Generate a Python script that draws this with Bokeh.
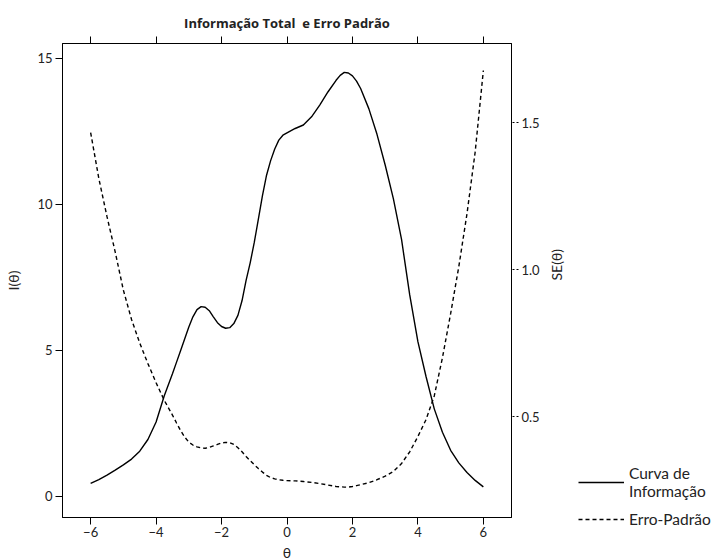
import math
from bokeh.plotting import figure
from bokeh.layouts import row
from bokeh.models import (Range1d, LinearAxis, FixedTicker, Legend, LegendItem,
                          CustomJSTickFormatter)
from bokeh.embed import file_html
from bokeh.resources import INLINE

theta = [-6.0, -5.75, -5.5, -5.25, -5.0, -4.75, -4.5, -4.25, -4.0, -3.75, -3.5, -3.375,
         -3.25, -3.125, -3.0, -2.875, -2.75, -2.625, -2.5, -2.375, -2.25, -2.125, -2.0,
         -1.875, -1.75, -1.625, -1.5, -1.375, -1.25, -1.125, -1.0, -0.875, -0.75, -0.625,
         -0.5, -0.375, -0.25, -0.125, 0.0, 0.25, 0.5, 0.75, 1.0, 1.25, 1.5, 1.625, 1.75,
         1.875, 2.0, 2.125, 2.25, 2.5, 2.75, 3.0, 3.25, 3.5, 3.75, 4.0, 4.25, 4.5, 4.75,
         5.0, 5.25, 5.5, 5.75, 6.0]
info = [0.45, 0.58, 0.73, 0.90, 1.08, 1.28, 1.55, 1.95, 2.55, 3.45, 4.2, 4.6,
        5.0, 5.4, 5.8, 6.15, 6.4, 6.5, 6.48, 6.36, 6.15, 5.95, 5.82,
        5.76, 5.78, 5.92, 6.2, 6.7, 7.4, 8.0, 8.7, 9.5, 10.3, 11.0,
        11.5, 11.9, 12.2, 12.37, 12.45, 12.6, 12.72, 13.0, 13.4, 13.85, 14.25, 14.42, 14.52,
        14.5, 14.4, 14.22, 13.97, 13.28, 12.4, 11.35, 10.2, 8.8, 6.9, 5.3, 4.1, 3.0, 2.2,
        1.58, 1.15, 0.82, 0.55, 0.33]
se = [1.466, 1.31, 1.18, 1.06, 0.93, 0.83, 0.75, 0.68, 0.615, 0.555, 0.505, 0.478,
      0.452, 0.43, 0.413, 0.403, 0.397, 0.393, 0.392, 0.395, 0.40, 0.405, 0.41,
      0.412, 0.411, 0.405, 0.394, 0.38, 0.364, 0.35, 0.336, 0.323, 0.311, 0.30,
      0.292, 0.288, 0.285, 0.283, 0.282, 0.281, 0.279, 0.276, 0.272, 0.267, 0.262, 0.261, 0.26,
      0.26, 0.262, 0.265, 0.268, 0.275, 0.285, 0.297, 0.313, 0.34, 0.38, 0.432, 0.49, 0.57, 0.70,
      0.85, 1.01, 1.19, 1.40, 1.677]

x_ticks = [-6, -4, -2, 0, 2, 4, 6]
y_ticks = [0, 5, 10, 15]
se_ticks = [0.5, 1.0, 1.5]
legend_labels = ["Curva de\nInformação", "Erro-Padrão"]

FONT = "Lato"

p = figure(frame_width=449, frame_height=474, output_backend="svg", toolbar_location=None,
           x_range=Range1d(-6.86, 6.86), y_range=Range1d(-0.72, 15.51),
           min_border_left=62, min_border_right=66, min_border_top=43, min_border_bottom=43,
           title="Informação Total\u00a0 e Erro Padrão")
p.extra_y_ranges = {"se": Range1d(0.1565, 1.769)}
p.grid.visible = False
p.outline_line_color = "black"
p.outline_line_width = 1
p.background_fill_color = "white"
p.border_fill_color = "white"

p.title.align = "center"
p.title.text_font = "Open Sans"
p.title.text_font_style = "bold"
p.title.text_font_size = "13px"
p.title.text_color = "#222222"

def style_axis(ax):
    ax.axis_line_color = "black"
    ax.major_tick_line_color = "black"
    ax.minor_tick_line_color = None
    ax.major_tick_in = 0
    ax.major_tick_out = 7
    ax.major_label_standoff = 3
    ax.axis_label_standoff = 6
    ax.major_label_text_font = FONT
    ax.major_label_text_font_size = "13px"
    ax.major_label_text_color = "#222222"
    ax.axis_label_text_font = FONT
    ax.axis_label_text_font_size = "14px"
    ax.axis_label_text_font_style = "normal"
    ax.axis_label_text_color = "#222222"

p.xaxis.ticker = FixedTicker(ticks=x_ticks)
p.xaxis.axis_label = "θ"
p.yaxis.ticker = FixedTicker(ticks=y_ticks)
p.yaxis.axis_label = "I(θ)"
style_axis(p.xaxis[0])
style_axis(p.yaxis[0])
p.xaxis.major_label_standoff = 2
p.xaxis.axis_label_standoff = 4
p.yaxis.major_label_orientation = "horizontal"
p.yaxis.axis_label_standoff = 12

top = LinearAxis(ticker=FixedTicker(ticks=x_ticks))
style_axis(top)
top.formatter = CustomJSTickFormatter(code="return '';")
top.major_label_standoff = 0
p.add_layout(top, "above")

right = LinearAxis(y_range_name="se", ticker=FixedTicker(ticks=se_ticks),
                   axis_label="SE(θ)")
style_axis(right)
right.major_tick_line_dash = "2 2"
right.major_label_orientation = "horizontal"
right.axis_label_standoff = 14
right.formatter = CustomJSTickFormatter(code="return tick.toFixed(1);")
try:
    right.axis_label_orientation = math.pi / 2
except Exception:
    pass
p.add_layout(right, "right")

p.line(theta, info, line_color="black", line_width=1.4)
p.line(theta, se, y_range_name="se", line_color="black", line_width=1.4, line_dash="4 3")

# legend panel to the right of the plot
q = figure(width=139, height=560, output_backend="svg", toolbar_location=None,
           x_range=Range1d(0, 1), y_range=Range1d(0, 1), min_border=0,
           x_axis_location=None, y_axis_location=None)
try:
    q.frame_align = False
except Exception:
    pass
q.grid.visible = False
q.outline_line_color = None
q.background_fill_color = "white"
q.border_fill_color = "white"
# legend-only renderers, kept outside the visible range
l1 = q.line([5, 6], [5, 6], line_color="black", line_width=1.4)
l2 = q.line([5, 6], [5, 6], line_color="black", line_width=1.4, line_dash="4 3")

legend = Legend(items=[LegendItem(label=legend_labels[0], renderers=[l1]),
                       LegendItem(label=legend_labels[1], renderers=[l2])],
                location=(1, 31))
legend.border_line_color = None
legend.background_fill_alpha = 0
legend.padding = 0
legend.margin = 0
legend.glyph_width = 46
legend.label_standoff = 5
legend.spacing = 9
legend.label_text_font = FONT
legend.label_text_font_size = "15.5px"
legend.label_text_color = "#222222"
q.add_layout(legend, "center")

layout = row(p, q)
open("out.html", "w").write(file_html(layout, INLINE))
